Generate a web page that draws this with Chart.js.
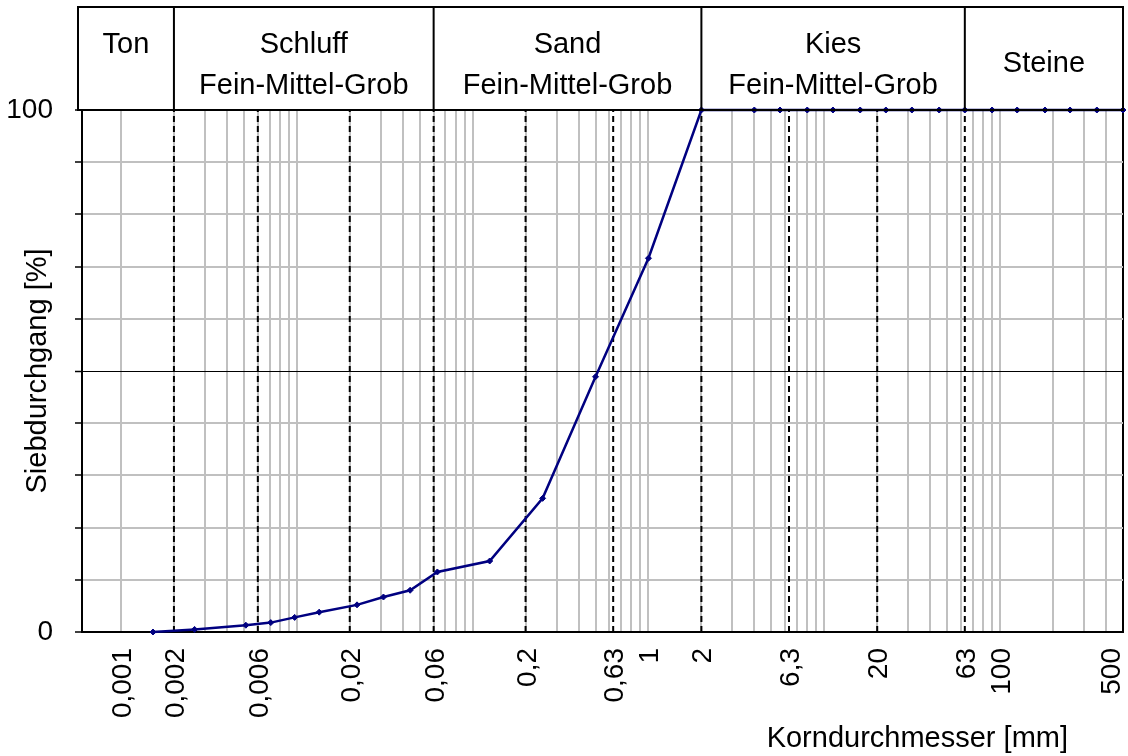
<!DOCTYPE html>
<html>
<head>
<meta charset="utf-8">
<title>Körnungslinie</title>
<style>
  html, body { margin: 0; padding: 0; background: #fff; }
  #wrap { width: 1128px; height: 756px; position: relative; }
</style>
<script src="https://cdn.jsdelivr.net/npm/chart.js@4.4.1/dist/chart.umd.min.js"></script>
</head>
<body>
<div id="wrap"><canvas id="c"></canvas></div>
<script>
const FONT = '"Liberation Sans", Arial, Helvetica, sans-serif';

// Sieve and sedimentation results: grain diameter [mm] and passing [%]
const grainSize = [0.00152, 0.00262, 0.00513, 0.00711, 0.00972, 0.0134, 0.022, 0.0311, 0.0441,
                   0.063, 0.125, 0.25, 0.5, 1, 2, 4, 5.6, 8, 11.2, 16, 22.4, 31.5, 45, 63,
                   90, 125, 180, 250, 355, 500];
const passing   = [0, 0.5, 1.3, 1.8, 2.8, 3.8, 5.2, 6.7, 8.0,
                   11.5, 13.6, 25.6, 48.9, 71.6, 100, 100, 100, 100, 100, 100, 100, 100, 100, 100,
                   100, 100, 100, 100, 100, 100];

// Fraction limits (dashed verticals) and main soil groups for the header row
const boundaries  = [0.002, 0.006, 0.02, 0.06, 0.2, 0.63, 2, 6.3, 20, 63];
const groupLimits = [0.002, 0.06, 2, 63];
const groupNames  = ['Ton', 'Schluff', 'Sand', 'Kies', 'Steine'];
const groupSub    = ['', 'Fein-Mittel-Grob', 'Fein-Mittel-Grob', 'Fein-Mittel-Grob', ''];
const groupPlace  = ['top', 'two', 'two', 'two', 'middle'];

// Axis ticks
const xTickValues = [0.001, 0.002, 0.006, 0.02, 0.06, 0.2, 0.63, 1, 2, 6.3, 20, 63, 100, 500];
const xTickLabels = ['0,001', '0,002', '0,006', '0,02', '0,06', '0,2', '0,63', '1', '2', '6,3', '20', '63', '100', '500'];
const yTickValues = [0, 100];
const yTickLabels = ['0', '100'];
const X_MIN = 0.00064, X_MAX = 500;

// log grid: 1..9 x 10^n from 0.001 up to the axis end
const xGrid = [];
for (let e = -3; e <= 2; e++) {
  for (let m = 1; m <= 9; m++) {
    const v = +(m * Math.pow(10, e)).toPrecision(6);
    if (v <= X_MAX) xGrid.push(v);
  }
}
if (xGrid[xGrid.length - 1] !== X_MAX) xGrid.push(X_MAX);

const GREY = '#c0c0c0';
const TEXT_SIZE = 29;
const TICK_SIZE = 28;

// Header table, rotated x labels and x title
const frame = {
  id: 'frame',
  afterDraw(chart) {
    const { ctx, chartArea: a } = chart;
    const x = chart.scales.x;
    ctx.save();
    ctx.fillStyle = '#000';
    ctx.strokeStyle = '#000';

    // x tick labels, reading bottom to top
    ctx.font = TICK_SIZE + 'px ' + FONT;
    xTickValues.forEach((v, i) => {
      const px = Math.min(x.getPixelForValue(v), chart.width - 18);
      ctx.save();
      ctx.translate(px + 10, a.bottom + 16);
      ctx.rotate(-Math.PI / 2);
      ctx.textAlign = 'right';
      ctx.textBaseline = 'alphabetic';
      ctx.fillText(xTickLabels[i], 0, 0);
      ctx.restore();
    });

    // x axis title
    ctx.font = TEXT_SIZE + 'px ' + FONT;
    ctx.textAlign = 'right';
    ctx.textBaseline = 'alphabetic';
    ctx.fillText('Korndurchmesser [mm]', 1068, 747);

    // header table
    const top = 7, bot = a.top, left = 78, right = a.right;
    ctx.lineWidth = 2;
    ctx.strokeRect(left, top, right - left, bot - top);
    const edges = [left, ...groupLimits.map(v => x.getPixelForValue(v)), right];
    ctx.beginPath();
    for (let i = 1; i < edges.length - 1; i++) {
      ctx.moveTo(edges[i], top);
      ctx.lineTo(edges[i], bot);
    }
    ctx.stroke();
    ctx.textAlign = 'center';
    groupNames.forEach((name, i) => {
      const cx = (edges[i] + edges[i + 1]) / 2;
      if (groupPlace[i] === 'two') {
        ctx.fillText(name, cx, 53);
        ctx.fillText(groupSub[i], cx, 94);
      } else if (groupPlace[i] === 'top') {
        ctx.fillText(name, cx, 53);
      } else {
        ctx.fillText(name, cx, 72);
      }
    });
    ctx.restore();
  }
};

new Chart(document.getElementById('c'), {
  type: 'line',
  data: {
    datasets: [
      {
        label: 'Siebdurchgang',
        data: grainSize.map((g, i) => ({ x: g, y: passing[i] })),
        borderColor: '#000080',
        backgroundColor: '#000080',
        borderWidth: 2.5,
        pointStyle: 'rectRot',
        pointRadius: 3,
        pointBorderWidth: 1,
        tension: 0,
        clip: 5,
        order: 0
      },
      ...boundaries.map(b => ({
        label: 'Grenze ' + b,
        data: [{ x: b, y: 0 }, { x: b, y: 100 }],
        borderColor: '#000',
        borderWidth: 2,
        borderDash: [6, 4],
        pointRadius: 0,
        tension: 0,
        order: 1
      }))
    ]
  },
  options: {
    responsive: true,
    maintainAspectRatio: false,
    animation: false,
    layout: { padding: { left: 0, top: 110, right: 5, bottom: 0 } },
    plugins: { legend: { display: false }, tooltip: { enabled: false } },
    scales: {
      x: {
        type: 'logarithmic',
        min: X_MIN,
        max: X_MAX,
        position: 'bottom',
        afterBuildTicks: s => { s.ticks = xGrid.map(v => ({ value: v })); },
        afterFit: s => { s.height = 124; s.paddingLeft = 0; s.paddingRight = 0; },
        ticks: { display: false },
        grid: {
          color: c => (c.tick && c.tick.value === X_MAX) ? '#000' : GREY,
          lineWidth: 2,
          drawTicks: false
        },
        border: { color: '#000', width: 2 }
      },
      y: {
        type: 'linear',
        min: 0,
        max: 100,
        afterFit: s => { s.width = 82; },
        ticks: {
          stepSize: 10,
          autoSkip: false,
          padding: 22,
          color: '#000',
          font: { family: FONT, size: TICK_SIZE },
          callback: v => {
            const i = yTickValues.indexOf(v);
            return i < 0 ? '' : yTickLabels[i];
          }
        },
        grid: {
          color: c => {
            const v = c.tick ? c.tick.value : null;
            if (v === 50) return '#000';
            if (v === 100) return 'rgba(0,0,0,0)';
            return GREY;
          },
          lineWidth: c => (c.tick && c.tick.value === 50) ? 1 : 2,
          tickColor: '#000',
          tickLength: 7,
          tickWidth: 1.5
        },
        border: { color: '#000', width: 2 },
        title: {
          display: true,
          text: 'Siebdurchgang [%]',
          color: '#000',
          font: { family: FONT, size: TEXT_SIZE },
          padding: { top: 21, bottom: 0 }
        }
      }
    }
  },
  plugins: [frame]
});
</script>
</body>
</html>
